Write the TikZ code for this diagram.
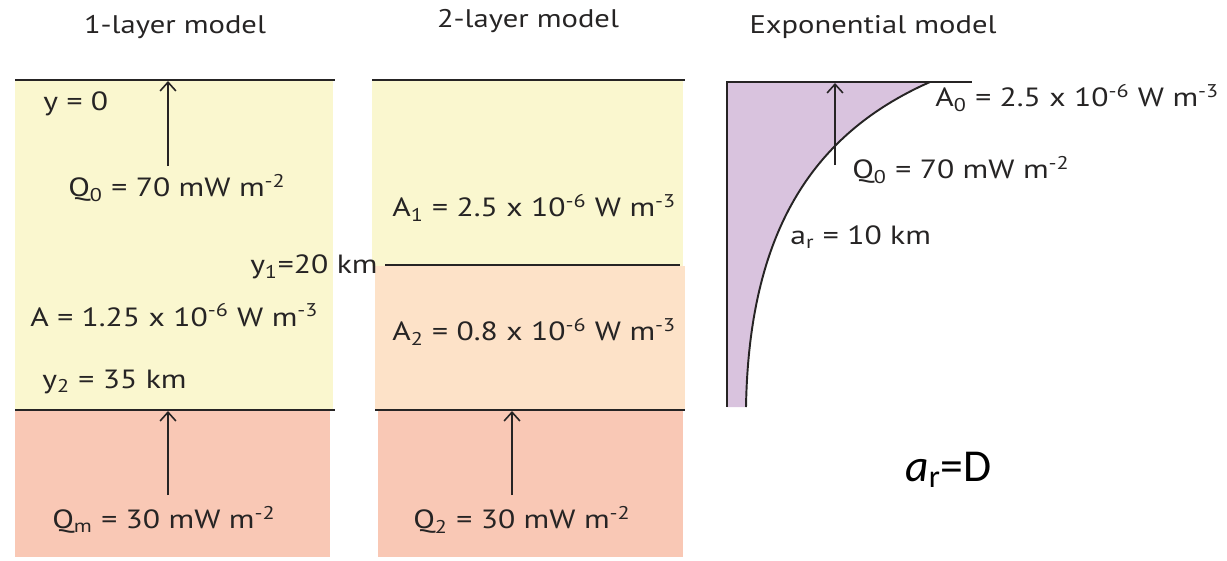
\documentclass[tikz,border=0pt]{standalone}
\usepackage{fontspec}
\setsansfont[FakeStretch=1.2]{PT Sans}
\newfontfamily\calib{Carlito}
\usetikzlibrary{arrows.meta}
\definecolor{ink}{HTML}{262424}
\definecolor{crust}{HTML}{FAF7CF}
\definecolor{lower}{HTML}{FDE2C8}
\definecolor{mantle}{HTML}{F9C8B5}
\definecolor{lav}{HTML}{D9C3DE}
\tikzset{
  lbl/.style={font=\sffamily\fontsize{15}{18}\selectfont, text=ink, inner sep=0pt},
  ttl/.style={font=\sffamily\fontsize{14.5}{18}\selectfont, text=ink, inner sep=0pt},
  flux/.style={-{Straight Barb[length=5pt,width=9pt]}, line width=0.9pt, draw=ink},
  bound/.style={line width=1.1pt, draw=ink}
}

\begin{document}
\begin{tikzpicture}[x=0.02cm, y=-0.02cm, font=\sffamily]
  \useasboundingbox (0,0) rectangle (1227,561);
  % titles
  \node[ttl] (t1) at (175,27) {1-layer model};
  \node[ttl] (t2) at (528,21) {2-layer model};
  \node[ttl] (t3) at (873,27) {Exponential model};

  % 1-layer model
  \fill[crust] (15,80) rectangle (333,410);
  \fill[mantle] (15,410) rectangle (330,557);
  \coordinate (s1) at (168,81);
  \coordinate (m1) at (168,411);
  \draw[bound] (15,80) -- (335,80);
  \draw[bound] (15,410) -- (335,410);
  \node[lbl, anchor=west] (y0) at (43,104) {y = 0};
  \node[lbl, anchor=west] (q0) at (68,188) {Q\textsubscript{0} = 70 mW m\textsuperscript{-2}};
  \node[lbl, anchor=west] (a) at (30,315) {A = 1.25 x 10\textsuperscript{-6} W m\textsuperscript{-3}};
  \node[lbl, anchor=west] (y2) at (42,382) {y\textsubscript{2} = 35 km};
  \node[lbl, anchor=west] (qm) at (52,520) {Q\textsubscript{m} = 30 mW m\textsuperscript{-2}};
  \draw[flux] (168,166) -- (s1);
  \draw[flux] (168,495) -- (m1);

  % 2-layer model
  \fill[crust] (372,80) rectangle (683,266);
  \fill[lower] (375,266) rectangle (685,410);
  \fill[mantle] (378,410) rectangle (683,557);
  \coordinate (s2) at (512,411);
  \draw[bound] (372,80) -- (685,80);
  \node[lbl, anchor=east] (y1) at (378,267) {y\textsubscript{1}=20 km};
  \coordinate (y1e) at (680,265);
  \draw[bound] (y1.east) ++(7,-2) -- (y1e);
  \draw[bound] (375,410) -- (685,410);
  \node[lbl, anchor=west] (a1) at (392,208) {A\textsubscript{1} = 2.5 x 10\textsuperscript{-6} W m\textsuperscript{-3}};
  \node[lbl, anchor=west] (a2) at (392,332) {A\textsubscript{2} = 0.8 x 10\textsuperscript{-6} W m\textsuperscript{-3}};
  \node[lbl, anchor=west] (q2) at (413,520) {Q\textsubscript{2} = 30 mW m\textsuperscript{-2}};
  \draw[flux] (512,495) -- (s2);

  % exponential model
  \fill[lav] (727,82) -- (930,82) .. controls (810,135) and (749,235) .. (746,407) -- (727,407) -- cycle;
  \draw[bound] (930,82) .. controls (810,135) and (749,235) .. (746,407);
  \draw[bound] (727,407) -- (727,82) -- (972,82);
  \coordinate (s3) at (835,83);
  \draw[flux] (835,165) -- (s3);
  \node[lbl, anchor=west] (a0) at (935,98) {A\textsubscript{0} = 2.5 x 10\textsuperscript{-6} W m\textsuperscript{-3}};
  \node[lbl, anchor=west] (q3) at (852,170) {Q\textsubscript{0} = 70 mW m\textsuperscript{-2}};
  \node[lbl, anchor=west] (ar) at (790,237) {a\textsubscript{r} = 10 km};
  \node[anchor=west, inner sep=0pt, font=\calib\fontsize{26}{30}\selectfont] (ard) at (905,470) {\textit{a}\textsubscript{r}=D};
\end{tikzpicture}
\end{document}
